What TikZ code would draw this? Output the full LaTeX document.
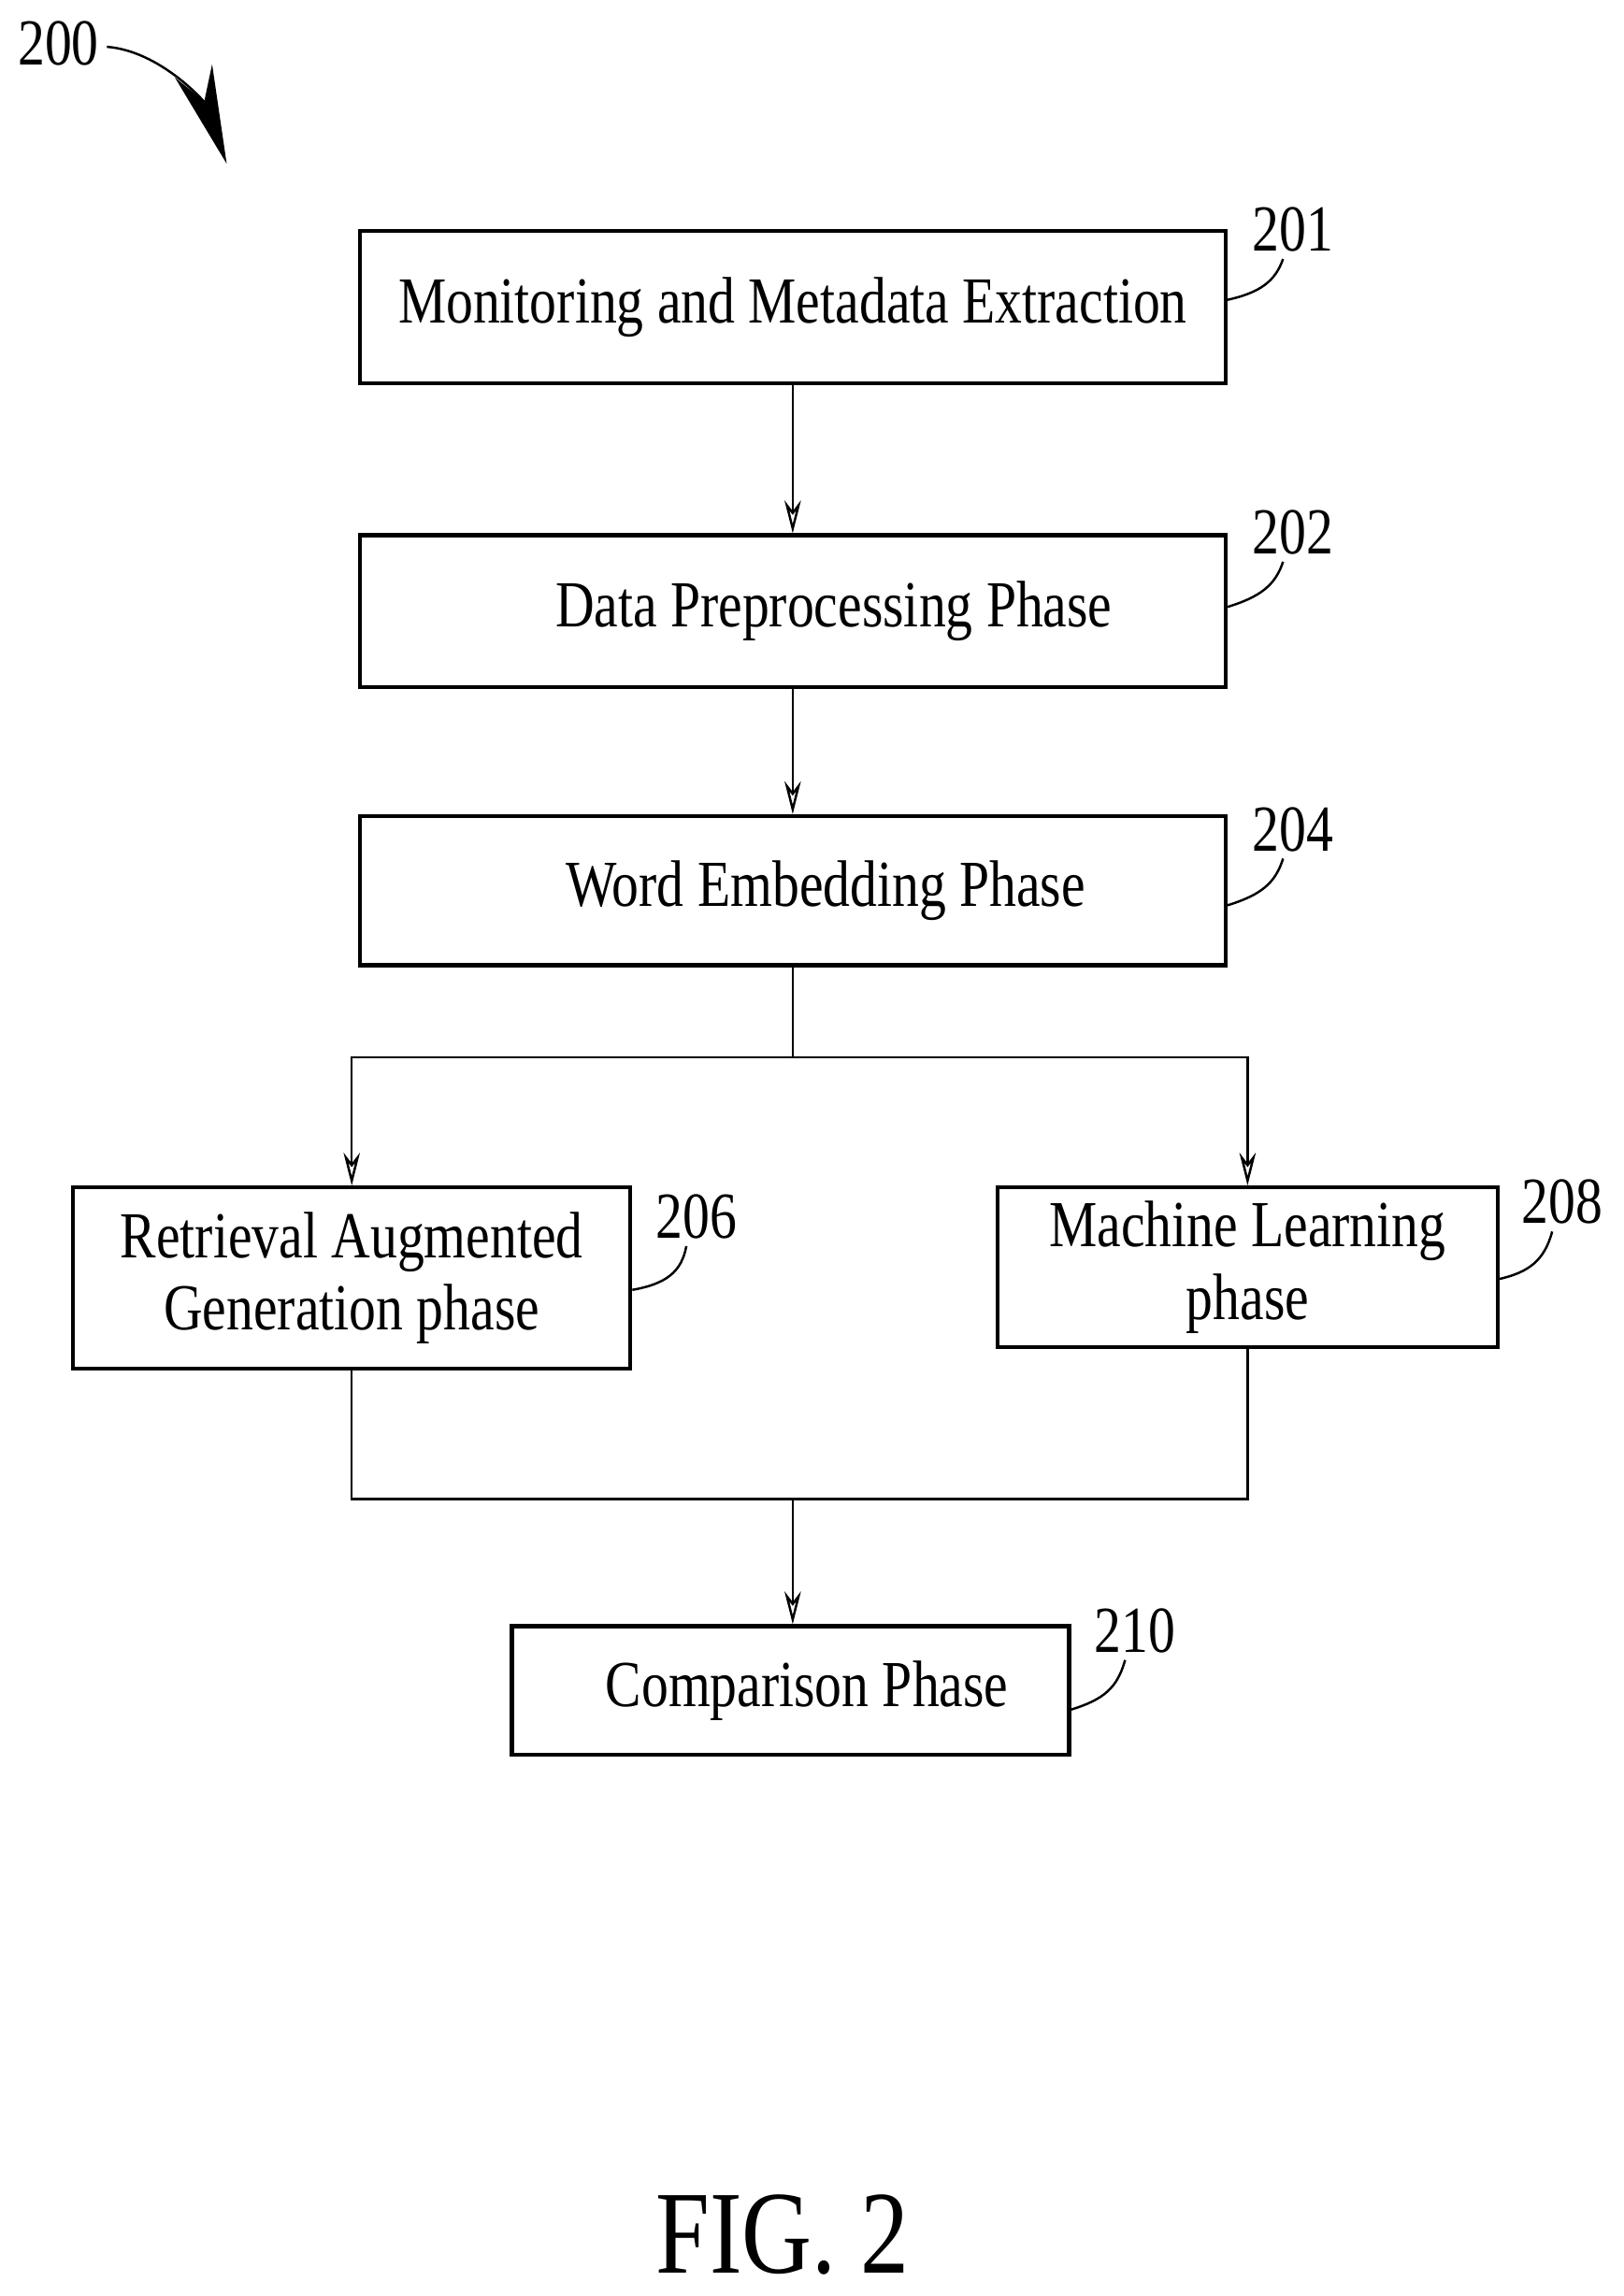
\documentclass[tikz,border=0pt]{standalone}
\usepackage{fontspec}
\setmainfont{Liberation Serif}[FakeStretch=0.82]
\usetikzlibrary{arrows.meta}
\begin{document}
\begin{tikzpicture}[x=0.01564cm,y=-0.01564cm,
  box/.style={draw,line width=1.2pt,align=center,font=\fontsize{20}{22}\selectfont,inner sep=0pt},
  lab/.style={font=\fontsize{20}{24}\selectfont,inner sep=0pt},
  ln/.style={line width=0.7pt},
  arr/.style={ln,-{Stealth[length=10pt,width=5pt,open]}}]
\useasboundingbox (0,0) rectangle (1110,1570);
% boxes
\node[box,minimum width=592*0.01564cm,minimum height=104*0.01564cm] (b201) at (542,210) {Monitoring and Metadata Extraction};
\node[box,minimum width=592*0.01564cm,minimum height=104*0.01564cm] (b202) at (542,418) {\hspace*{25pt}Data Preprocessing Phase};
\node[box,minimum width=592*0.01564cm,minimum height=102*0.01564cm] (b204) at (542,609) {\hspace*{20pt}Word Embedding Phase};
\node[box,minimum width=381*0.01564cm,minimum height=124*0.01564cm] (b206) at (240.5,874) {Retrieval Augmented\\Generation phase};
\node[box,minimum width=342*0.01564cm,minimum height=109*0.01564cm] (b208) at (853,866.5) {Machine Learning\\phase};
\node[box,minimum width=381*0.01564cm,minimum height=88*0.01564cm] (b210) at (540.5,1156) {\hspace*{10pt}Comparison Phase};
% labels
\node[lab] (l201) at (884,157) {201};
\node[lab] (l202) at (884,364) {202};
\node[lab] (l204) at (884,567) {204};
\node[lab] (l206) at (476,832) {206};
\node[lab] (l208) at (1068,822) {208};
\node[lab] (l210) at (776,1115) {210};
\node[lab] (l200) at (40,30) {200};
\node[lab,font=\fontsize{36}{42}\selectfont] (fig) at (535,1528) {FIG. 2};
% leaders
\draw[ln] (b201.east) ++(0,-5) .. controls (862,200) and (872,192) .. ([xshift=-3pt,yshift=-2pt]l201.south);
\draw[ln] (b202.east) ++(0,-3) .. controls (862,408) and (872,400) .. ([xshift=-3pt,yshift=-2pt]l202.south);
\draw[ln] (b204.east) ++(0,10) .. controls (862,612) and (872,604) .. ([xshift=-3pt,yshift=-2pt]l204.south);
\draw[ln] (b206.east) ++(0,8) .. controls (455,878) and (466,870) .. ([xshift=-3pt,yshift=-2pt]l206.south);
\draw[ln] (b208.east) ++(0,8) .. controls (1045,870) and (1056,862) .. ([xshift=-3pt,yshift=-2pt]l208.south);
\draw[ln] (b210.east) ++(0,13) .. controls (755,1162) and (764,1154) .. ([xshift=-3pt,yshift=-2pt]l210.south);
\draw[ln,-{Stealth[length=30pt,width=12pt]}] (l200.east) ++(5,2) .. controls (110,35) and (140,70) .. (155,112);
% connectors
\draw[arr] (b201) -- (b202);
\draw[arr] (b202) -- (b204);
\coordinate (s) at (542,723);
\draw[ln] (b204.south) -- (s);
\draw[arr] (s) -| (b206.north);
\draw[arr] (s) -| (b208.north);
\coordinate (m) at (542,1025);
\draw[ln] (b206.south) |- (m);
\draw[ln] (b208.south) |- (m);
\draw[arr] (m) -- (m |- b210.north);
\end{tikzpicture}
\end{document}
